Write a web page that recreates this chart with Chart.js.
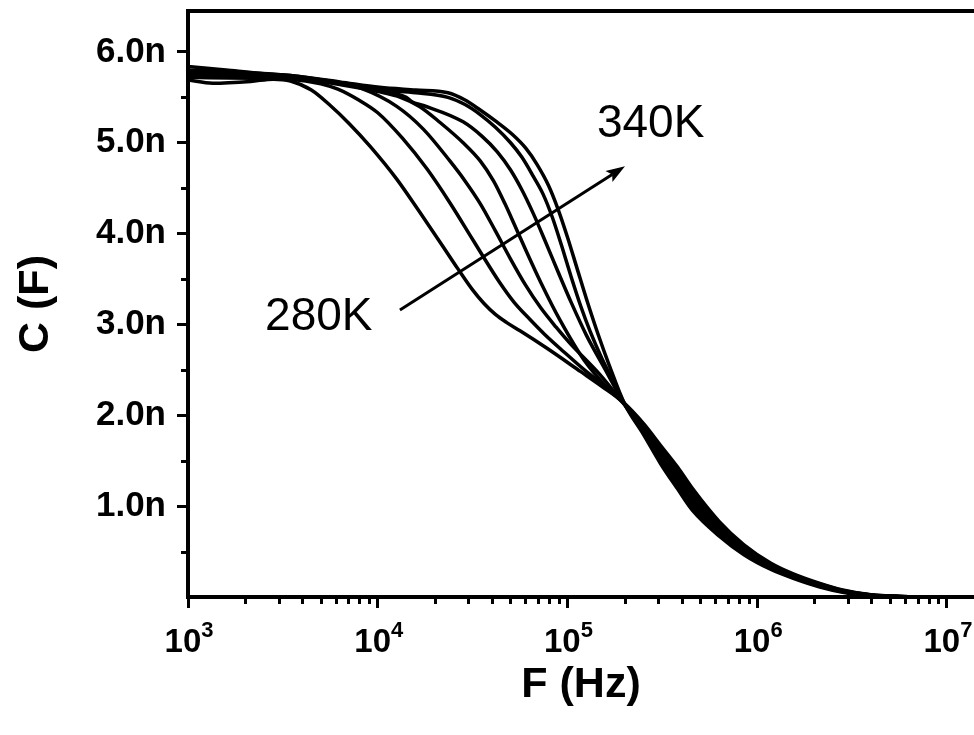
<!DOCTYPE html>
<html>
<head>
<meta charset="utf-8">
<title>C (F) vs F (Hz)</title>
<script src="https://cdn.jsdelivr.net/npm/chart.js@4.4.1/dist/chart.umd.min.js"></script>
<style>
html,body{margin:0;padding:0;background:#fff;overflow:hidden;}
#wrap{width:974px;height:735px;position:relative;}
canvas{display:block;}
</style>
</head>
<body>
<div id="wrap"><canvas id="chart" width="974" height="735"></canvas></div>
<script>
// ---------- data (frequency in Hz, capacitance in nF) ----------
const temperatures = ['280K', '290K', '300K', '310K', '320K', '330K', '340K'];

const freq280 = [1000, 1349, 2138, 2818, 3467, 4467, 5623, 7079, 9120, 12590, 16600, 21880, 26300, 31620, 36310, 41690, 47860, 56230, 77620, 117500, 151400, 195000, 251200, 309000, 380200, 457100, 631000, 851100, 1175000, 1549000, 2138000, 2818000, 3981000, 5623000, 10000000, 13880000];
const cap280  = [5.69, 5.655, 5.675, 5.70, 5.68, 5.58, 5.41, 5.21, 4.96, 4.60, 4.24, 3.87, 3.62, 3.38, 3.23, 3.11, 3.02, 2.93, 2.74, 2.48, 2.32, 2.15, 1.91, 1.67, 1.43, 1.19, 0.83, 0.575, 0.375, 0.255, 0.15, 0.077, 0.024, 0.006, 0, 0];

const freq290 = [1000, 2138, 3467, 5012, 6166, 7943, 10000, 13490, 18200, 23990, 30900, 34670, 43650, 52480, 63100, 75860, 95500, 125900, 173800, 199500, 251200, 309000, 380200, 457100, 631000, 851100, 1175000, 1549000, 2138000, 2818000, 3981000, 5623000, 10000000, 13880000];
const cap290  = [5.72, 5.71, 5.70, 5.65, 5.59, 5.47, 5.33, 5.05, 4.71, 4.34, 3.97, 3.80, 3.47, 3.24, 3.06, 2.89, 2.70, 2.48, 2.25, 2.13, 1.89, 1.64, 1.39, 1.15, 0.80, 0.557, 0.363, 0.247, 0.143, 0.073, 0.023, 0.006, 0, 0];

const freq300 = [1000, 2138, 3467, 5623, 8128, 12590, 17380, 23990, 28840, 34670, 41690, 50120, 60260, 72440, 87100, 102300, 147900, 199500, 251200, 309000, 380200, 457100, 631000, 851100, 1175000, 1549000, 2138000, 2818000, 3981000, 5623000, 10000000, 13880000];
const cap300  = [5.74, 5.72, 5.71, 5.68, 5.60, 5.40, 5.15, 4.80, 4.58, 4.33, 4.03, 3.72, 3.43, 3.18, 2.97, 2.80, 2.45, 2.12, 1.87, 1.60, 1.35, 1.11, 0.776, 0.538, 0.352, 0.238, 0.137, 0.069, 0.021, 0.005, 0, 0];

const freq310 = [1000, 2138, 3467, 6310, 10230, 13180, 16600, 21380, 28180, 34670, 40740, 46770, 52480, 60260, 72440, 91200, 123000, 166000, 199500, 251200, 309000, 380200, 457100, 631000, 851100, 1175000, 1549000, 2138000, 2818000, 3981000, 5623000, 10000000, 13880000];
const cap310  = [5.76, 5.74, 5.72, 5.64, 5.56, 5.50, 5.40, 5.22, 5.00, 4.80, 4.58, 4.33, 4.10, 3.82, 3.46, 3.05, 2.60, 2.28, 2.12, 1.85, 1.57, 1.31, 1.07, 0.75, 0.52, 0.34, 0.23, 0.13, 0.065, 0.02, 0.005, 0, 0];

const freq320 = [1000, 2138, 3467, 6310, 10230, 14130, 15140, 17380, 28180, 35480, 42660, 50120, 57540, 66070, 75860, 89130, 104700, 125900, 158500, 199500, 251200, 309000, 380200, 457100, 631000, 851100, 1175000, 1549000, 2138000, 2818000, 3981000, 5623000, 10000000, 13880000];
const cap320  = [5.78, 5.75, 5.73, 5.65, 5.57, 5.50, 5.45, 5.41, 5.23, 5.07, 4.90, 4.70, 4.48, 4.22, 3.93, 3.58, 3.24, 2.88, 2.50, 2.12, 1.83, 1.54, 1.27, 1.03, 0.724, 0.502, 0.328, 0.222, 0.123, 0.061, 0.019, 0.005, 0, 0];

const freq330 = [1000, 2138, 3467, 6310, 10230, 15850, 23440, 28840, 34670, 41690, 50120, 57540, 66070, 74130, 83180, 93330, 104700, 117500, 131800, 151400, 173800, 199500, 251200, 309000, 380200, 457100, 631000, 851100, 1175000, 1549000, 2138000, 2818000, 3981000, 5623000, 10000000, 13880000];
const cap330  = [5.80, 5.77, 5.74, 5.66, 5.58, 5.55, 5.50, 5.42, 5.31, 5.17, 5.00, 4.84, 4.63, 4.44, 4.18, 3.86, 3.52, 3.20, 2.92, 2.63, 2.38, 2.13, 1.81, 1.50, 1.23, 0.99, 0.70, 0.483, 0.317, 0.213, 0.117, 0.057, 0.017, 0.004, 0, 0];

const freq340 = [1000, 1585, 2512, 3467, 6310, 10230, 15850, 23440, 28840, 34670, 41690, 51290, 60260, 69180, 79430, 89130, 100000, 112200, 125900, 144500, 166000, 199500, 251200, 309000, 380200, 457100, 631000, 851100, 1175000, 1549000, 2138000, 2818000, 3981000, 5623000, 10000000, 13880000];
const cap340  = [5.84, 5.80, 5.76, 5.74, 5.67, 5.61, 5.58, 5.55, 5.47, 5.36, 5.24, 5.09, 4.94, 4.76, 4.53, 4.27, 3.96, 3.62, 3.28, 2.90, 2.55, 2.13, 1.79, 1.47, 1.19, 0.95, 0.67, 0.465, 0.305, 0.205, 0.11, 0.053, 0.016, 0.004, 0, 0];

// axes
const xMin = 1000, xMax = 13880000;
const yMin = 0, yMax = 6.45;
const xMajorTicks = [1e3, 1e4, 1e5, 1e6, 1e7];
const xTickExponents = ['3', '4', '5', '6', '7'];
const xMinorTicks = [2e3,3e3,4e3,5e3,6e3,7e3,8e3,9e3, 2e4,3e4,4e4,5e4,6e4,7e4,8e4,9e4, 2e5,3e5,4e5,5e5,6e5,7e5,8e5,9e5, 2e6,3e6,4e6,5e6,6e6,7e6,8e6,9e6];
const yMajorTicks = [1, 2, 3, 4, 5, 6];
const yTickLabels = ['1.0n', '2.0n', '3.0n', '4.0n', '5.0n', '6.0n'];
const yMinorTicks = [0.5, 1.5, 2.5, 3.5, 4.5, 5.5];
const xTitle = 'F (Hz)';
const yTitle = 'C (F)';

// annotations (data coordinates)
const arrowFrom = { f: 13090, c: 3.16 };
const arrowTo   = { f: 200900, c: 4.74 };
const labelLow  = { text: '280K', f: 2547, c: 2.94 };
const labelHigh = { text: '340K', f: 142900, c: 5.06 };

// ---------- drawing ----------
const FONT = '"Liberation Sans", Arial, Helvetica, sans-serif';

const series = [
  { label: temperatures[0], f: freq280, c: cap280 },
  { label: temperatures[1], f: freq290, c: cap290 },
  { label: temperatures[2], f: freq300, c: cap300 },
  { label: temperatures[3], f: freq310, c: cap310 },
  { label: temperatures[4], f: freq320, c: cap320 },
  { label: temperatures[5], f: freq330, c: cap330 },
  { label: temperatures[6], f: freq340, c: cap340 }
];

const overlay = {
  id: 'overlay',
  afterDraw(chart) {
    const { ctx, chartArea: a } = chart;
    const xs = chart.scales.x, ys = chart.scales.y;
    ctx.save();
    ctx.strokeStyle = '#000';
    ctx.fillStyle = '#000';
    ctx.lineCap = 'butt';
    ctx.lineWidth = 3;
    // minor ticks
    xMinorTicks.forEach(v => {
      const px = Math.round(xs.getPixelForValue(v)) + 0.5;
      ctx.beginPath(); ctx.moveTo(px, a.bottom + 2); ctx.lineTo(px, a.bottom + 7); ctx.stroke();
    });
    yMinorTicks.forEach(v => {
      const py = Math.round(ys.getPixelForValue(v)) + 0.5;
      ctx.beginPath(); ctx.moveTo(a.left - 2, py); ctx.lineTo(a.left - 7, py); ctx.stroke();
    });
    // x tick labels: 10^n
    xMajorTicks.forEach((v, i) => {
      const px = xs.getPixelForValue(v);
      ctx.font = 'bold 33px ' + FONT;
      const wBase = ctx.measureText('10').width;
      ctx.font = 'bold 22px ' + FONT;
      const wExp = ctx.measureText(xTickExponents[i]).width;
      const start = px - (wBase + wExp) / 2 + 1;
      ctx.textAlign = 'left';
      ctx.textBaseline = 'alphabetic';
      ctx.font = 'bold 33px ' + FONT;
      ctx.fillText('10', start, a.bottom + 55);
      ctx.font = 'bold 22px ' + FONT;
      ctx.fillText(xTickExponents[i], start + wBase, a.bottom + 40);
    });
    // arrow
    const x0 = xs.getPixelForValue(arrowFrom.f), y0 = ys.getPixelForValue(arrowFrom.c);
    const x1 = xs.getPixelForValue(arrowTo.f), y1 = ys.getPixelForValue(arrowTo.c);
    const ang = Math.atan2(y1 - y0, x1 - x0);
    const hl = 19, hw = 6.5;
    ctx.lineWidth = 3;
    ctx.beginPath();
    ctx.moveTo(x0, y0);
    ctx.lineTo(x1 - hl * 0.8 * Math.cos(ang), y1 - hl * 0.8 * Math.sin(ang));
    ctx.stroke();
    ctx.beginPath();
    ctx.moveTo(x1, y1);
    ctx.lineTo(x1 - hl * Math.cos(ang) + hw * Math.sin(ang), y1 - hl * Math.sin(ang) - hw * Math.cos(ang));
    ctx.lineTo(x1 - hl * 0.8 * Math.cos(ang), y1 - hl * 0.8 * Math.sin(ang));
    ctx.lineTo(x1 - hl * Math.cos(ang) - hw * Math.sin(ang), y1 - hl * Math.sin(ang) + hw * Math.cos(ang));
    ctx.closePath();
    ctx.fill();
    // temperature labels
    ctx.font = '46px ' + FONT;
    ctx.textAlign = 'left';
    ctx.textBaseline = 'alphabetic';
    [labelLow, labelHigh].forEach(l => {
      ctx.fillText(l.text, xs.getPixelForValue(l.f), ys.getPixelForValue(l.c));
    });
    ctx.restore();
  }
};

const axisGrid = { display: true, drawOnChartArea: false, drawTicks: true, tickLength: 11, tickWidth: 3, tickColor: '#000' };
const axisBorder = { display: true, color: '#000', width: 4 };

new Chart(document.getElementById('chart'), {
  type: 'line',
  data: {
    datasets: series.map(s => ({
      label: s.label,
      data: s.f.map((f, i) => ({ x: f, y: s.c[i] })),
      borderColor: '#000',
      borderWidth: 3.5,
      pointRadius: 0,
      fill: false,
      cubicInterpolationMode: 'monotone'
    }))
  },
  options: {
    responsive: false,
    animation: false,
    devicePixelRatio: 1,
    layout: { padding: 0 },
    plugins: { legend: { display: false }, tooltip: { enabled: false } },
    scales: {
      x: {
        type: 'logarithmic', position: 'bottom', min: xMin, max: xMax,
        afterBuildTicks(s) { s.ticks = xMajorTicks.map(v => ({ value: v })); },
        afterFit(s) { s.height = 138; s.paddingLeft = 0; s.paddingRight = 0; },
        ticks: { display: false },
        grid: axisGrid,
        border: axisBorder,
        title: { display: true, text: xTitle, color: '#000', font: { family: FONT, size: 43, weight: 'bold' }, padding: { top: 0, bottom: 24 } }
      },
      xTop: {
        type: 'logarithmic', position: 'top', axis: 'x', min: xMin, max: xMax,
        afterBuildTicks(s) { s.ticks = []; },
        afterFit(s) { s.height = 11; s.paddingLeft = 0; s.paddingRight = 0; },
        ticks: { display: false },
        grid: { display: false },
        border: axisBorder
      },
      y: {
        type: 'linear', position: 'left', min: yMin, max: yMax,
        afterBuildTicks(s) { s.ticks = yMajorTicks.map(v => ({ value: v })); },
        afterFit(s) { s.width = 188; s.paddingTop = 0; s.paddingBottom = 0; },
        ticks: {
          display: true, color: '#000', padding: 11,
          font: { family: FONT, size: 35, weight: 'bold' },
          callback: (v, i) => yTickLabels[i]
        },
        grid: axisGrid,
        border: axisBorder,
        title: { display: true, text: yTitle, color: '#000', font: { family: FONT, size: 43, weight: 'bold' }, padding: { top: 10, bottom: 0 } }
      }
    }
  },
  plugins: [overlay]
});
</script>
</body>
</html>
